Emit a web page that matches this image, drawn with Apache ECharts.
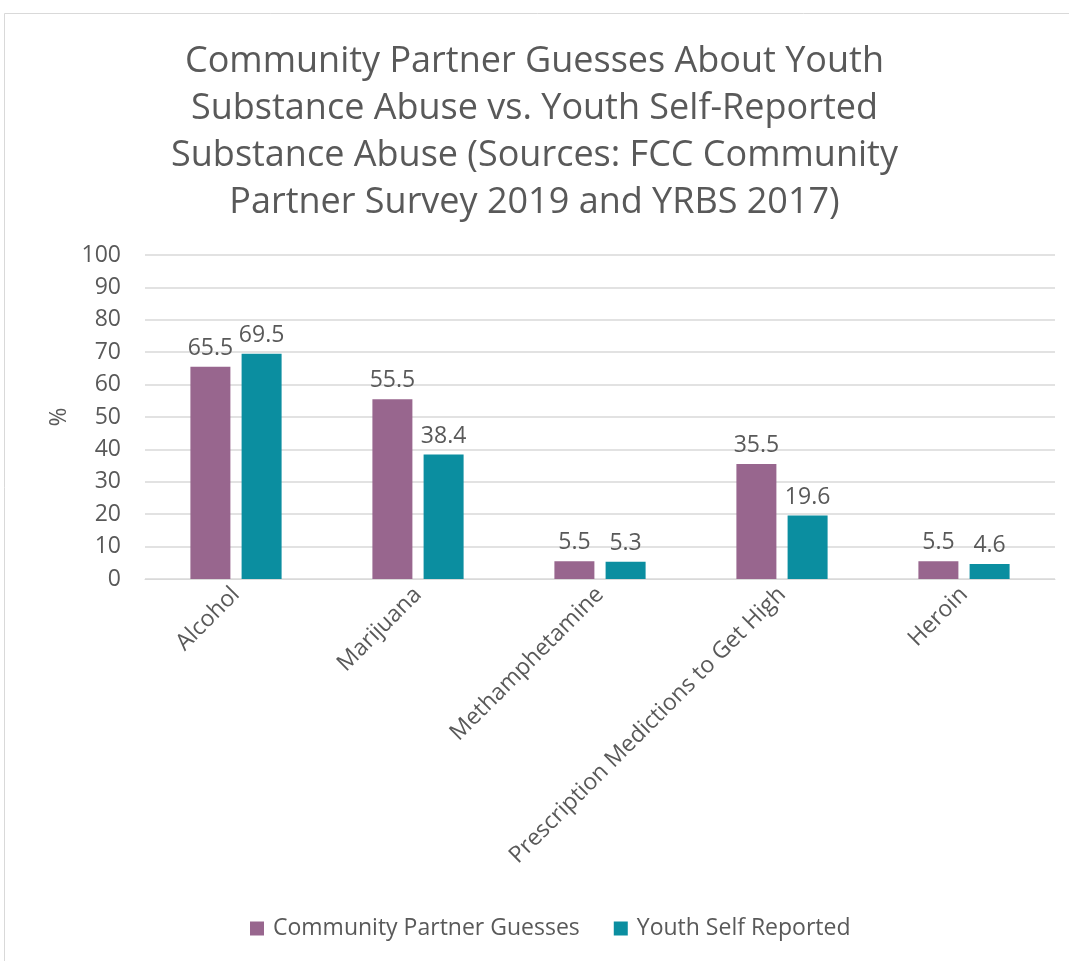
<!DOCTYPE html>
<html><head><meta charset="utf-8">
<script src="https://cdn.jsdelivr.net/npm/echarts@6/dist/echarts.min.js"></script>
<style>html,body{margin:0;padding:0;background:#fff}#c{width:1069px;height:961px}</style>
</head><body><div id="c"></div>
<script>
const categories = ["Alcohol", "Marijuana", "Methamphetamine", "Prescription Medictions to Get High", "Heroin"];
const partnerGuesses = [65.5, 55.5, 5.5, 35.5, 5.5];
const youthReported = [69.5, 38.4, 5.3, 19.6, 4.6];
const seriesNames = ["Community Partner Guesses", "Youth Self Reported"];
const yTicks = [0, 10, 20, 30, 40, 50, 60, 70, 80, 90, 100];
const titleText = "Community Partner Guesses About Youth\nSubstance Abuse vs. Youth Self-Reported\nSubstance Abuse (Sources: FCC Community\nPartner Survey 2019 and YRBS 2017)";

const FONT = "Open Sans";
const TXT = "#595959";
const chart = echarts.init(document.getElementById('c'), null, {renderer: 'canvas'});
const lbl = {show: true, position: 'top', distance: 7, color: TXT, fontSize: 23, fontFamily: FONT};
chart.setOption({
  backgroundColor: '#fff',
  graphic: [{type: 'rect', shape: {x: 4.5, y: 13.5, width: 1080, height: 960}, style: {fill: 'none', stroke: '#d9d9d9', lineWidth: 1}, silent: true}],
  title: {text: titleText, left: 'center', top: 33, textStyle: {color: TXT, fontSize: 36, fontWeight: 'normal', fontFamily: FONT, lineHeight: 47}},
  legend: {top: 912, left: 245, itemWidth: 14, itemHeight: 14, itemGap: 34, icon: 'rect',
    textStyle: {color: TXT, fontSize: 23, fontFamily: FONT, padding: [0, 0, 0, 4]}, data: seriesNames},
  grid: {left: 145, right: 14, top: 255, bottom: 382, containLabel: false},
  xAxis: {type: 'category', data: categories,
    axisLine: {lineStyle: {color: '#d9d9d9', width: 1}}, axisTick: {show: false},
    axisLabel: {rotate: 45, color: TXT, fontSize: 23, fontFamily: FONT, interval: 0, margin: 12}},
  yAxis: {type: 'value', min: yTicks[0], max: yTicks[yTicks.length - 1], interval: 10,
    name: '%', nameLocation: 'middle', nameGap: 68, nameRotate: 90,
    nameTextStyle: {color: TXT, fontSize: 23, fontFamily: FONT},
    axisLine: {show: false}, axisTick: {show: false},
    axisLabel: {color: TXT, fontSize: 23, fontFamily: FONT, margin: 24},
    splitLine: {lineStyle: {color: '#d9d9d9', width: 1.5}}},
  series: [
    {name: seriesNames[0], type: 'bar', data: partnerGuesses, itemStyle: {color: '#98668E'},
      barWidth: 40, barGap: '28%', label: lbl},
    {name: seriesNames[1], type: 'bar', data: youthReported, itemStyle: {color: '#0B8EA0'},
      barWidth: 40, label: lbl}
  ]
});
</script></body></html>
